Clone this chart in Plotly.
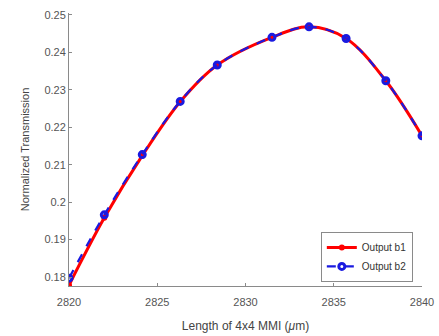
import plotly.graph_objects as go

length_um = [2820, 2822.0, 2824.15, 2826.3, 2828.4, 2831.5, 2833.6, 2835.7, 2837.95, 2840]
output_b1 = [0.1778, 0.1958, 0.2124, 0.2268, 0.2366, 0.2440, 0.2468, 0.2437, 0.2324, 0.2177]
output_b2 = [0.1797, 0.1966, 0.2127, 0.2269, 0.2366, 0.2440, 0.2468, 0.2437, 0.2324, 0.2177]
x_ticks = [2820, 2825, 2830, 2835, 2840]
y_ticks = [0.18, 0.19, 0.20, 0.21, 0.22, 0.23, 0.24, 0.25]
y_tick_labels = ["0.18", "0.19", "0.2", "0.21", "0.22", "0.23", "0.24", "0.25"]

fig = go.Figure()
fig.add_trace(go.Scatter(
    x=length_um, y=output_b1, name="Output b1", mode="lines+markers",
    line=dict(color="#ff0000", width=3, shape="spline"),
    marker=dict(symbol="circle", size=6, color="#ff0000"),
))
fig.add_trace(go.Scatter(
    x=length_um, y=output_b2, name="Output b2", mode="lines+markers",
    line=dict(color="#1a1ae0", width=2.2, dash="dash", shape="spline"),
    marker=dict(symbol="circle-open", size=6, color="#1a1ae0", line=dict(width=3, color="#1a1ae0")),
))

axis_common = dict(
    showline=True, linecolor="#8a8a8a", linewidth=1, mirror=False,
    ticks="inside", ticklen=3, tickcolor="#8a8a8a",
    showgrid=False, zeroline=False, automargin=False,
    tickfont=dict(size=11, color="#555555"),
)
fig.update_xaxes(range=[2820, 2840], tickvals=x_ticks, ticklabelstandoff=6, **axis_common,
                 title=dict(text="Length of 4x4 MMI (<i>μ</i>m)", font=dict(size=12, color="#444444"), standoff=14))
fig.update_yaxes(range=[0.1776, 0.2505], tickvals=y_ticks, ticktext=y_tick_labels, **axis_common,
                 title=dict(text="Normalized Transmission", font=dict(size=11, color="#444444"), standoff=12))

fig.update_layout(
    width=439, height=336,
    margin=dict(l=69, r=17, t=13, b=50),
    paper_bgcolor="white", plot_bgcolor="white",
    font=dict(family="Liberation Sans, Arial, sans-serif"),
    showlegend=True,
    legend=dict(x=0.974, y=0.015, xanchor="right", yanchor="bottom",
                bordercolor="#8a8a8a", borderwidth=1, bgcolor="white",
                font=dict(size=10, color="#333333"), tracegroupgap=0,
                itemwidth=30),
)
fig.write_html("out.html")
